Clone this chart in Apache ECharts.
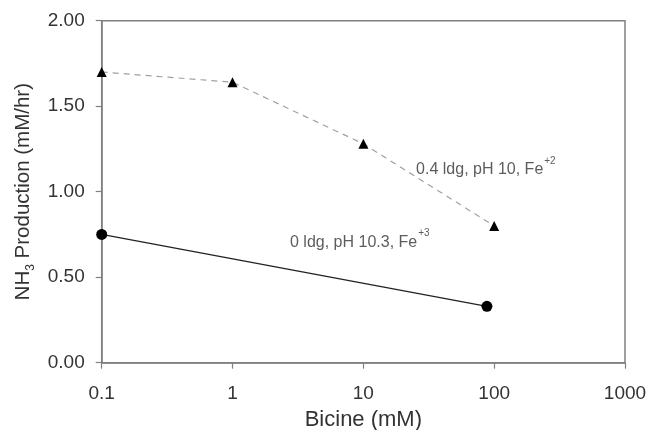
<!DOCTYPE html>
<html>
<head>
<meta charset="utf-8">
<script src="https://cdn.jsdelivr.net/npm/echarts@6/dist/echarts.min.js"></script>
<style>
html,body{margin:0;padding:0;background:#fff;}
#c{width:651px;height:430px;}
</style>
</head>
<body>
<div id="c"></div>
<script>
// Data
var xTickLabels = ['0.1', '1', '10', '100', '1000'];
var yTickLabels = ['0.00', '0.50', '1.00', '1.50', '2.00'];
var bicineTri = [0.1, 1, 10, 100];
var nh3Tri = [1.70, 1.64, 1.28, 0.80];
var bicineCirc = [0.1, 88];
var nh3Circ = [0.75, 0.33];
var triLabel = ['0.4 ldg, pH 10, Fe', '+2'];
var circLabel = ['0 ldg, pH 10.3, Fe', '+3'];
// annotation anchors (data coordinates of each label's left-middle)
var triLabelAt = [25.3, 1.145];
var circLabelAt = [2.75, 0.72];

var FONT = 'Liberation Sans, Arial, sans-serif';
var chart = echarts.init(document.getElementById('c'));

function pairs(xs, ys){ return xs.map(function(x,i){ return [x, ys[i]]; }); }

var annRich = {
  t: {fontSize: 16, color: '#333', fontFamily: FONT, lineHeight: 22, verticalAlign: 'bottom'},
  s: {fontSize: 10, color: '#333', fontFamily: FONT, lineHeight: 22, verticalAlign: 'top', padding:[0,0,0,1]}
};

chart.setOption({
  animation: false,
  backgroundColor: '#fff',
  grid: {left: 101.7, right: 26, top: 20.7, bottom: 67.3, show: true, borderColor: '#808080', borderWidth: 1.5,
         containLabel: false, outerBoundsMode: 'none'},
  xAxis: {
    type: 'log', logBase: 10, min: 0.1, max: 1000,
    name: 'Bicine (mM)', nameLocation: 'middle', nameGap: 45,
    nameTextStyle: {fontSize: 22, color: '#333', fontFamily: FONT},
    axisLine: {show: true, lineStyle: {color: '#808080', width: 1.5}},
    axisTick: {show: true, inside: false, length: 6, lineStyle: {color: '#808080', width: 1.2}},
    minorTick: {show: false},
    splitLine: {show: false},
    axisLabel: {fontSize: 19, color: '#333', fontFamily: FONT, margin: 22,
      formatter: function(v){ var i = Math.round(Math.log10(v)) + 1; return xTickLabels[i] !== undefined ? xTickLabels[i] : ''; }}
  },
  yAxis: {
    type: 'value', min: 0, max: 2, interval: 0.5,
    name: '{n|NH}{b|3}{n| Production (mM/hr)}', nameLocation: 'middle', nameGap: 60,
    nameTextStyle: {fontSize: 20, color: '#333', fontFamily: FONT,
      rich: {
        n: {fontSize: 20.5, color: '#333', fontFamily: FONT, lineHeight: 24, verticalAlign: 'top'},
        b: {fontSize: 12, color: '#333', fontFamily: FONT, lineHeight: 24, verticalAlign: 'bottom'}
      }},
    axisLine: {show: true, lineStyle: {color: '#808080', width: 1.5}},
    axisTick: {show: true, inside: false, length: 6, lineStyle: {color: '#808080', width: 1.2}},
    splitLine: {show: false},
    axisLabel: {fontSize: 19, color: '#333', fontFamily: FONT, margin: 17,
      formatter: function(v){ return yTickLabels[Math.round(v / 0.5)]; }}
  },
  series: [
    {
      type: 'line', data: pairs(bicineTri, nh3Tri),
      symbol: 'triangle', symbolSize: 10,
      itemStyle: {color: '#000'},
      lineStyle: {color: '#a0a0a0', width: 1.2, type: [6, 5]},
      z: 3
    },
    {
      type: 'line', data: pairs(bicineCirc, nh3Circ),
      symbol: 'circle', symbolSize: 11,
      itemStyle: {color: '#000'},
      lineStyle: {color: '#222', width: 1.3},
      z: 3
    },
    {
      type: 'scatter', symbolSize: 0, silent: true,
      data: [
        {value: triLabelAt, label: {formatter: '{t|' + triLabel[0] + '}{s|' + triLabel[1] + '}'}},
        {value: circLabelAt, label: {formatter: '{t|' + circLabel[0] + '}{s|' + circLabel[1] + '}'}}
      ],
      label: {show: true, position: 'right', distance: 0, rich: annRich}
    }
  ]
});
</script>
</body>
</html>
